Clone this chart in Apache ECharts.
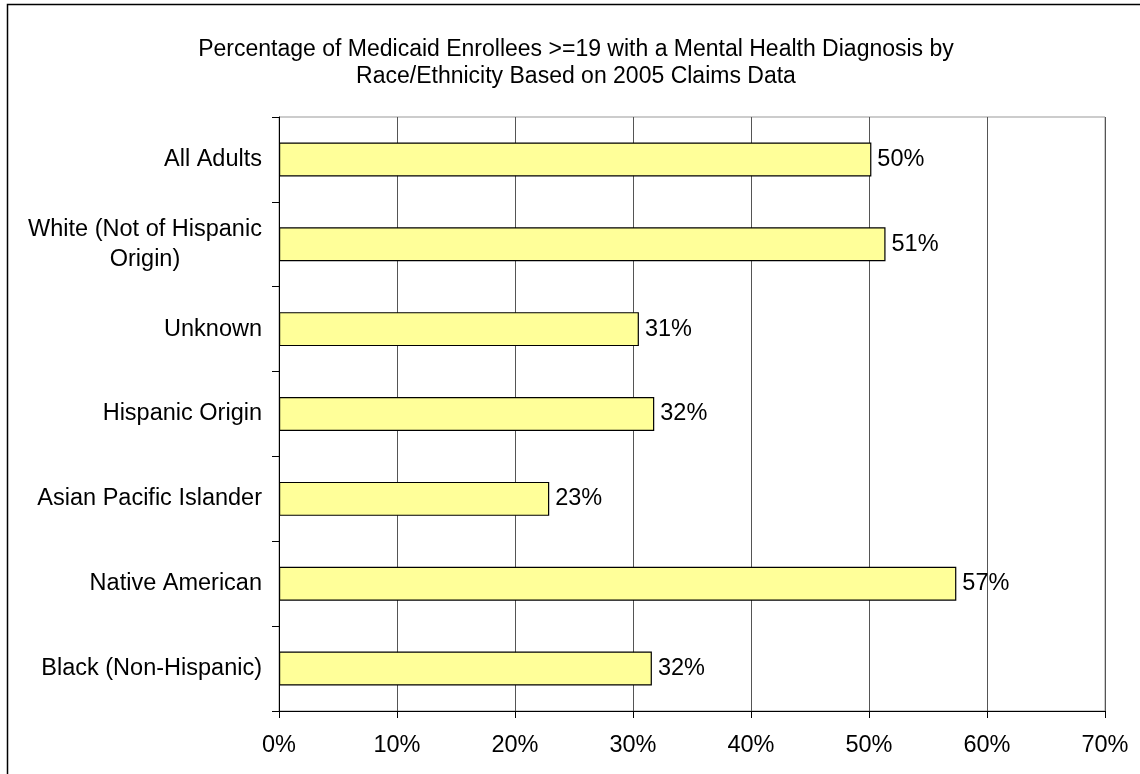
<!DOCTYPE html>
<html>
<head>
<meta charset="utf-8">
<title>Medicaid Enrollees Mental Health Diagnosis</title>
<script src="https://cdn.jsdelivr.net/npm/echarts@6/dist/echarts.min.js"></script>
<style>
  html, body { margin: 0; padding: 0; background: #fff; }
  #chart { width: 1140px; height: 774px; }
</style>
</head>
<body>
<div id="chart"></div>
<script>
// categories, top to bottom as in the picture
const groups = [
  'All Adults',
  'White (Not of Hispanic\nOrigin)',
  'Unknown',
  'Hispanic Origin',
  'Asian Pacific Islander',
  'Native American',
  'Black (Non-Hispanic)'
]
// percent
const shares = [50.2, 51.4, 30.5, 31.8, 22.9, 57.4, 31.6]
const xTicks = [0, 10, 20, 30, 40, 50, 60, 70]

const font = 'Liberation Sans, Arial, sans-serif'
const labelSize = 23.5

// width of the widest line of a label, so two-line labels can be centred as a block
const ctx = document.createElement('canvas').getContext('2d')
ctx.font = labelSize + 'px ' + font
function blockWidth(s) {
  return Math.ceil(Math.max(...s.split('\n').map(l => ctx.measureText(l).width)))
}

const chart = echarts.init(document.getElementById('chart'))
chart.setOption({
  animation: false,
  backgroundColor: '#fff',
  title: {
    text: 'Percentage of Medicaid Enrollees >=19 with a Mental Health Diagnosis by\nRace/Ethnicity Based on 2005 Claims Data',
    left: 571,
    textAlign: 'center',
    top: 31,
    textStyle: { fontFamily: font, fontSize: 23, fontWeight: 'normal', color: '#000', lineHeight: 27 }
  },
  // outer chart frame (runs off the right and bottom edge)
  graphic: [{
    type: 'rect',
    shape: { x: 7.5, y: 4.5, width: 1200, height: 900 },
    style: { fill: 'none', stroke: '#000', lineWidth: 1.5 },
    silent: true
  }],
  grid: {
    left: 279, right: 35, top: 117, bottom: 63,
    show: true, borderColor: '#999', borderWidth: 1, backgroundColor: '#fff'
  },
  xAxis: {
    type: 'value',
    min: xTicks[0],
    max: xTicks[xTicks.length - 1],
    interval: 10,
    axisLine: { show: true, lineStyle: { color: '#000', width: 1 } },
    axisTick: { show: true, length: 7, lineStyle: { color: '#000' } },
    splitLine: { show: true, lineStyle: { color: '#555', width: 1 } },
    axisLabel: {
      formatter: '{value}%', margin: 23,
      fontFamily: font, fontSize: labelSize, color: '#000'
    }
  },
  yAxis: {
    type: 'category',
    data: groups,
    inverse: true,
    axisLine: { show: true, lineStyle: { color: '#000', width: 1 } },
    axisTick: { show: true, length: 7, lineStyle: { color: '#000' } },
    splitLine: { show: false },
    axisLabel: {
      margin: 17, align: 'right',
      formatter: v => {
        if (v.indexOf('\n') < 0) return v
        return v.split('\n').map(l => '{c|' + l + '}').join('\n')
      },
      fontFamily: font, fontSize: labelSize, color: '#000', lineHeight: 30,
      rich: {
        c: {
          width: blockWidth(groups[1]), align: 'center',
          fontFamily: font, fontSize: labelSize, color: '#000', lineHeight: 30
        }
      }
    }
  },
  series: [{
    type: 'bar',
    data: shares,
    barCategoryGap: '60%',
    itemStyle: { color: '#ffff99', borderColor: '#000', borderWidth: 1.2 },
    label: {
      show: true, position: 'right', distance: 6,
      formatter: p => Math.round(p.value) + '%',
      fontFamily: font, fontSize: labelSize, color: '#000'
    }
  }]
})
</script>
</body>
</html>
